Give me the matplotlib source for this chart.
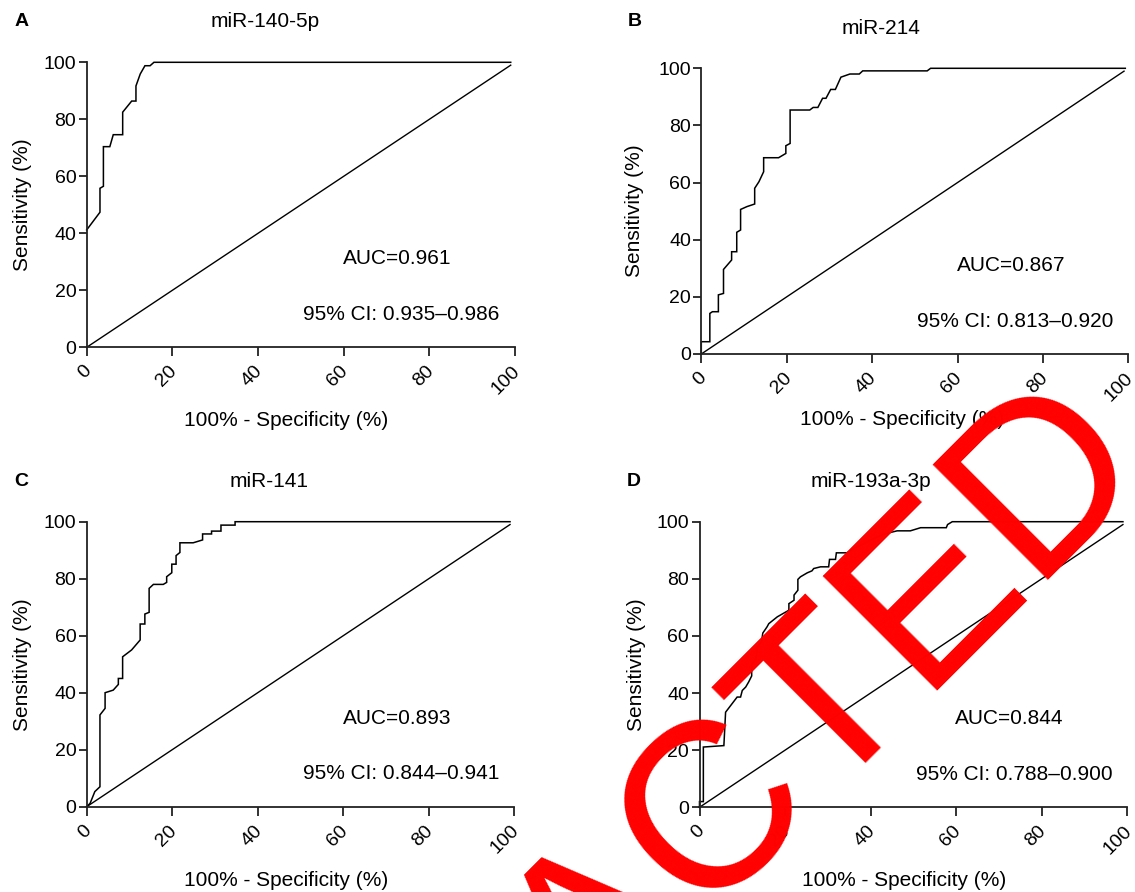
import matplotlib
matplotlib.use("Agg")
import matplotlib.pyplot as plt
import matplotlib.transforms as mtransforms

plt.rcParams['font.family'] = ['Liberation Sans', 'DejaVu Sans']

# ---------------- data ----------------
titles = ["miR-140-5p", "miR-214", "miR-141", "miR-193a-3p"]
panel_letters = ["A", "B", "C", "D"]
auc_texts = ["AUC=0.961", "AUC=0.867", "AUC=0.893", "AUC=0.844"]
ci_texts = ["95% CI: 0.935\u20130.986", "95% CI: 0.813\u20130.920",
            "95% CI: 0.844\u20130.941", "95% CI: 0.788\u20130.900"]

A_fpr = [0, 3.1, 3.1, 3.9, 3.9, 5.4, 6.2, 8.4, 8.4, 10.5, 11.5, 11.5, 12.5, 13.6, 14.8, 15.7, 99]
A_tpr = [41.2, 47.4, 55.8, 56.5, 70.4, 70.4, 74.6, 74.6, 82.5, 86.4, 86.4, 91.7, 95.9, 98.8, 98.8, 100, 100]

B_fpr = [0, 0, 2.0, 2.0, 2.6, 4.0, 4.0, 5.2, 5.2, 7.1, 7.1, 8.3, 8.3, 9.2, 9.2, 10.7, 12.5, 12.5,
         13.5, 14.6, 14.6, 18.1, 19.8, 19.8, 20.8, 20.8, 25.4, 26.2, 27.3, 28.4, 29.2, 30.3, 31.4,
         32.7, 34.8, 37.0, 37.8, 52.9, 53.7, 99.3]
B_tpr = [0, 4.3, 4.3, 14.2, 14.8, 14.8, 20.7, 21.2, 29.6, 32.9, 35.8, 35.8, 42.6, 43.4, 50.6, 51.6,
         52.5, 58.0, 60.3, 63.8, 68.7, 68.7, 70.2, 72.9, 73.7, 85.4, 85.4, 86.3, 86.3, 89.5, 89.5,
         92.6, 92.6, 96.9, 98.0, 98.0, 99.1, 99.1, 100, 100]

C_fpr = [0, 0.8, 1.9, 3.1, 3.1, 4.3, 4.3, 6.2, 7.4, 7.4, 8.4, 8.4, 10.5, 12.5, 12.5, 13.6, 13.6,
         14.6, 14.6, 15.6, 17.9, 18.7, 18.7, 19.9, 19.9, 20.9, 20.9, 21.8, 21.8, 24.9, 27.1, 27.1,
         29.2, 29.2, 31.4, 31.4, 34.7, 34.7, 99]
C_tpr = [0, 1.2, 5.3, 7.0, 32.2, 34.5, 40.0, 40.9, 42.9, 45.0, 45.0, 52.6, 55.0, 58.5, 64.1, 64.1,
         67.6, 68.2, 76.6, 78.0, 78.0, 78.7, 80.7, 82.1, 85.1, 85.1, 88.1, 89.2, 92.6, 92.6, 93.6,
         95.7, 95.7, 96.7, 96.7, 98.8, 98.8, 100, 100]

D_fpr = [0, 0, 0.9, 0.9, 5.7, 6.1, 8.8, 9.6, 10.0, 10.8, 11.5, 12.2, 12.2, 13.2, 13.5, 14.5, 14.8,
         15.8, 16.2, 18.2, 20.9, 20.9, 22.1, 22.1, 23.0, 23.0, 23.6, 25.2, 26.3, 26.7, 28.3, 30.2,
         30.4, 31.8, 32.0, 34.5, 36.0, 38.0, 40.0, 42.0, 44.0, 46.2, 49.3, 51.7, 57.7, 58.0, 59.1, 99]
D_tpr = [0, 2.0, 2.0, 21.1, 21.6, 33.3, 38.6, 38.6, 40.9, 42.1, 43.9, 46.0, 50.0, 52.0, 56.0, 58.0,
         61.0, 63.2, 64.3, 66.7, 69.0, 71.3, 72.5, 74.3, 76.0, 79.8, 80.7, 82.1, 82.8, 83.6, 84.2,
         84.2, 86.8, 86.8, 89.1, 89.1, 90.5, 92.0, 93.5, 95.0, 96.0, 96.8, 96.8, 97.9, 97.9, 99.0,
         100, 100]

diag_x = [0, 99]
diag_y = [0, 99]

ticks = [0, 20, 40, 60, 80, 100]
tick_labels = ["0", "20", "40", "60", "80", "100"]
xlabel = "100% - Specificity (%)"
ylabel = "Sensitivity (%)"
watermark = "RETRACTED"

curves = [(A_fpr, A_tpr), (B_fpr, B_tpr), (C_fpr, C_tpr), (D_fpr, D_tpr)]

# ---------------- layout ----------------
W, H = 1135, 892
fig = plt.figure(figsize=(W / 100, H / 100), dpi=100)

# axes boxes in pixels: (x0, x1, ytop, ybottom)
boxes = [(86.7, 515.0, 62.3, 347.3),
         (701.3, 1128.3, 68.3, 354.0),
         (86.7, 514.3, 521.7, 806.7),
         (699.5, 1127.2, 521.7, 807.3)]
title_pos = [(265, 21.7), (881, 28.3), (269, 481.7), (870.5, 481.7)]
letter_pos = [(21.7, 21.7), (634.7, 21.7), (21.2, 481.7), (634, 481.7)]
ylabel_x = [22.7, 635, 22.7, 637]
xlabel_pos = [(286.5, 420), (901.8, 420), (286.5, 880), (904.5, 880)]

axis_color = "#222222"
for i, (fx, ty) in enumerate(curves):
    x0, x1, yt, yb = boxes[i]
    ax = fig.add_axes([x0 / W, 1 - yb / H, (x1 - x0) / W, (yb - yt) / H])
    ax.plot(diag_x, diag_y, color="black", lw=1.0, clip_on=False)
    ax.plot(fx, ty, color="black", lw=1.1, clip_on=False, solid_joinstyle="miter")
    ax.set_xlim(0, 100)
    ax.set_ylim(0, 100)
    for s in ["top", "right"]:
        ax.spines[s].set_visible(False)
    for s in ["left", "bottom"]:
        ax.spines[s].set_linewidth(1.3)
        ax.spines[s].set_color(axis_color)
    ax.set_xticks(ticks)
    ax.set_xticklabels(tick_labels)
    ax.set_yticks(ticks)
    ax.set_yticklabels(tick_labels)
    ax.tick_params(axis="x", direction="out", length=6.3, width=1.3, color=axis_color,
                   labelsize=14, pad=9)
    ax.tick_params(axis="y", direction="out", length=6.0, width=1.3, color=axis_color,
                   labelsize=14, pad=1.5)
    off = mtransforms.ScaledTranslation(2 / 100, 0, fig.dpi_scale_trans)
    for lab in ax.get_xticklabels():
        lab.set_rotation(45)
        lab.set_ha("right")
        lab.set_va("center")
        lab.set_rotation_mode("anchor")
        lab.set_transform(lab.get_transform() + off)

    ax.set_xlabel(xlabel, fontsize=15)
    ax.set_ylabel(ylabel, fontsize=15)
    xl = ax.xaxis.label
    xl.set_va("center")
    ax.xaxis.set_label_coords((xlabel_pos[i][0] - x0) / (x1 - x0),
                              (yb - xlabel_pos[i][1]) / (yb - yt))
    yl = ax.yaxis.label
    yl.set_va("center")
    ax.yaxis.set_label_coords((ylabel_x[i] - x0) / (x1 - x0), 0.5)

    ax.text(72.5, 31, auc_texts[i], fontsize=15, ha="center", va="center")
    ax.text(73.5, 11.5, ci_texts[i], fontsize=15, ha="center", va="center")

    fig.text(title_pos[i][0] / W, 1 - title_pos[i][1] / H, titles[i], fontsize=15,
             ha="center", va="center")
    fig.text(letter_pos[i][0] / W, 1 - letter_pos[i][1] / H, panel_letters[i], fontsize=14,
             fontweight="bold", ha="center", va="center")

# diagonal red stamp
fig.text(643 / W, 1 - 966 / H, watermark, fontsize=169, color="#ff0000", rotation=45,
         rotation_mode="anchor", ha="center", va="baseline", zorder=20)

fig.savefig("out.png", dpi=100)
